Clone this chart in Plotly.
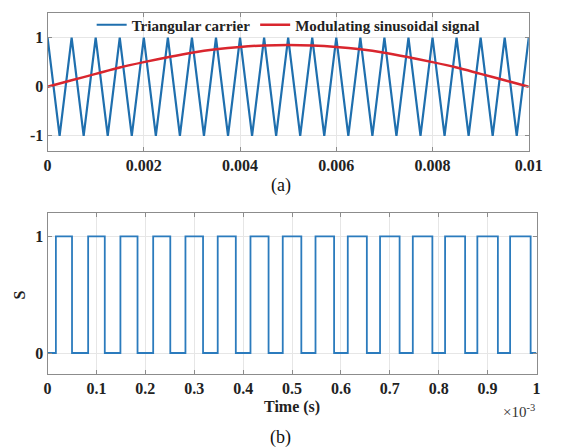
import plotly.graph_objects as go

# ---------------- data ----------------
# (a) triangular carrier vertices (s) and values
carrier_t = [0.0, 0.00025, 0.0005, 0.00075, 0.001, 0.00125, 0.0015, 0.00175, 0.002, 0.00225,
             0.0025, 0.00275, 0.003, 0.00325, 0.0035, 0.00375, 0.004, 0.00425, 0.0045, 0.00475,
             0.005, 0.00525, 0.0055, 0.00575, 0.006, 0.00625, 0.0065, 0.00675, 0.007, 0.00725,
             0.0075, 0.00775, 0.008, 0.00825, 0.0085, 0.00875, 0.009, 0.00925, 0.0095, 0.00975, 0.01]
carrier_v = [1, -1, 1, -1, 1, -1, 1, -1, 1, -1,
             1, -1, 1, -1, 1, -1, 1, -1, 1, -1,
             1, -1, 1, -1, 1, -1, 1, -1, 1, -1,
             1, -1, 1, -1, 1, -1, 1, -1, 1, -1, 1]

# (a) modulating sinusoidal signal, read at 0.5 ms steps
mod_t = [0.0, 0.0005, 0.001, 0.0015, 0.002, 0.0025, 0.003, 0.0035, 0.004, 0.0045, 0.005,
         0.0055, 0.006, 0.0065, 0.007, 0.0075, 0.008, 0.0085, 0.009, 0.0095, 0.01]
mod_v = [0.0, 0.13, 0.26, 0.39, 0.50, 0.60, 0.69, 0.76, 0.81, 0.84, 0.85,
         0.84, 0.81, 0.76, 0.69, 0.60, 0.50, 0.39, 0.26, 0.13, 0.0]

# (b) switching signal S: rising / falling edge times (x 10^-3 s)
rise_t = [0.017, 0.083, 0.149, 0.216, 0.282, 0.348, 0.415, 0.481, 0.548, 0.614,
          0.680, 0.747, 0.813, 0.879, 0.946]
fall_t = [0.050, 0.117, 0.184, 0.251, 0.318, 0.385, 0.452, 0.519, 0.586, 0.653,
          0.720, 0.787, 0.854, 0.921, 0.988]
t_end = 1.0

top_xticks = [0, 0.002, 0.004, 0.006, 0.008, 0.01]
top_xlabels = ["0", "0.002", "0.004", "0.006", "0.008", "0.01"]
top_yticks = [-1, 0, 1]
top_ylabels = ["-1", "0", "1"]
bot_xticks = [0, 0.1, 0.2, 0.3, 0.4, 0.5, 0.6, 0.7, 0.8, 0.9, 1]
bot_xlabels = ["0", "0.1", "0.2", "0.3", "0.4", "0.5", "0.6", "0.7", "0.8", "0.9", "1"]
bot_yticks = [0, 1]
bot_ylabels = ["0", "1"]

# build step trace
s_x = [0.0]
s_y = [0]
for r, f in zip(rise_t, fall_t):
    s_x += [r, f]
    s_y += [1, 0]
s_x.append(t_end)
s_y.append(0)

W, H = 566, 447
SERIF = "Liberation Serif, Times New Roman, serif"

fig = go.Figure()
fig.add_trace(go.Scatter(x=carrier_t, y=carrier_v, mode="lines", name="Triangular carrier",
                         line=dict(color="#1f6fae", width=2.2), xaxis="x", yaxis="y"))
fig.add_trace(go.Scatter(x=mod_t, y=mod_v, mode="lines", name="Modulating sinusoidal signal",
                         line=dict(color="#d9262e", width=2.5, shape="spline"), xaxis="x", yaxis="y"))
fig.add_trace(go.Scatter(x=s_x, y=s_y, mode="lines", showlegend=False,
                         line=dict(color="#2b7bbd", width=1.8, shape="hv"), xaxis="x2", yaxis="y2"))

axis_common = dict(showline=True, mirror="ticks", linecolor="#8c8c8c", linewidth=1,
                   showgrid=True, gridcolor="#e6e6e6", gridwidth=1, zeroline=False,
                   ticks="inside", ticklen=4, tickcolor="#8c8c8c",
                   tickfont=dict(family=SERIF, size=16, color="#222222", weight="bold"))

fig.update_layout(
    width=W, height=H,
    margin=dict(l=0, r=0, t=0, b=0),
    paper_bgcolor="white", plot_bgcolor="white",
    showlegend=True,
    legend=dict(orientation="h", x=293.5 / W, xanchor="center", y=1 - 25 / H, yanchor="middle",
                bgcolor="rgba(255,255,255,0)",
                font=dict(family=SERIF, size=15, color="#222222", weight="bold"),
                itemwidth=30, tracegroupgap=0),
    xaxis=dict(domain=[45 / W, 542 / W], anchor="y", range=[0, 0.01],
               tickvals=top_xticks, ticktext=top_xlabels, **axis_common),
    yaxis=dict(domain=[1 - 151 / H, 1 - 13 / H], anchor="x", range=[-1.31, 1.5],
               tickvals=top_yticks, ticktext=top_ylabels, **axis_common),
    xaxis2=dict(domain=[45 / W, 550 / W], anchor="y2", range=[0, 1],
                tickvals=bot_xticks, ticktext=bot_xlabels, **axis_common),
    yaxis2=dict(domain=[1 - 374 / H, 1 - 213 / H], anchor="x2", range=[-0.18, 1.2],
                tickvals=bot_yticks, ticktext=bot_ylabels, **axis_common),
)

ann = [
    dict(text="(a)", x=286 / W, y=1 - 185 / H, font=dict(family=SERIF, size=18, color="#111111")),
    dict(text="(b)", x=286 / W, y=1 - 437 / H, font=dict(family=SERIF, size=18, color="#111111")),
    dict(text="Time (s)", x=297.5 / W, y=1 - 407 / H,
         font=dict(family=SERIF, size=16, color="#222222", weight="bold")),
    dict(text="S", x=16 / W, y=1 - 295 / H, textangle=-90,
         font=dict(family=SERIF, size=16, color="#222222", weight="bold")),
    dict(text="×10<sup>-3</sup>", x=550 / W, y=1 - 411 / H, xanchor="right",
         font=dict(family=SERIF, size=15, color="#333333")),
]
for a in ann:
    a.setdefault("xanchor", "center")
    fig.add_annotation(xref="paper", yref="paper", showarrow=False, yanchor="middle", **a)

fig.write_html("out.html")
